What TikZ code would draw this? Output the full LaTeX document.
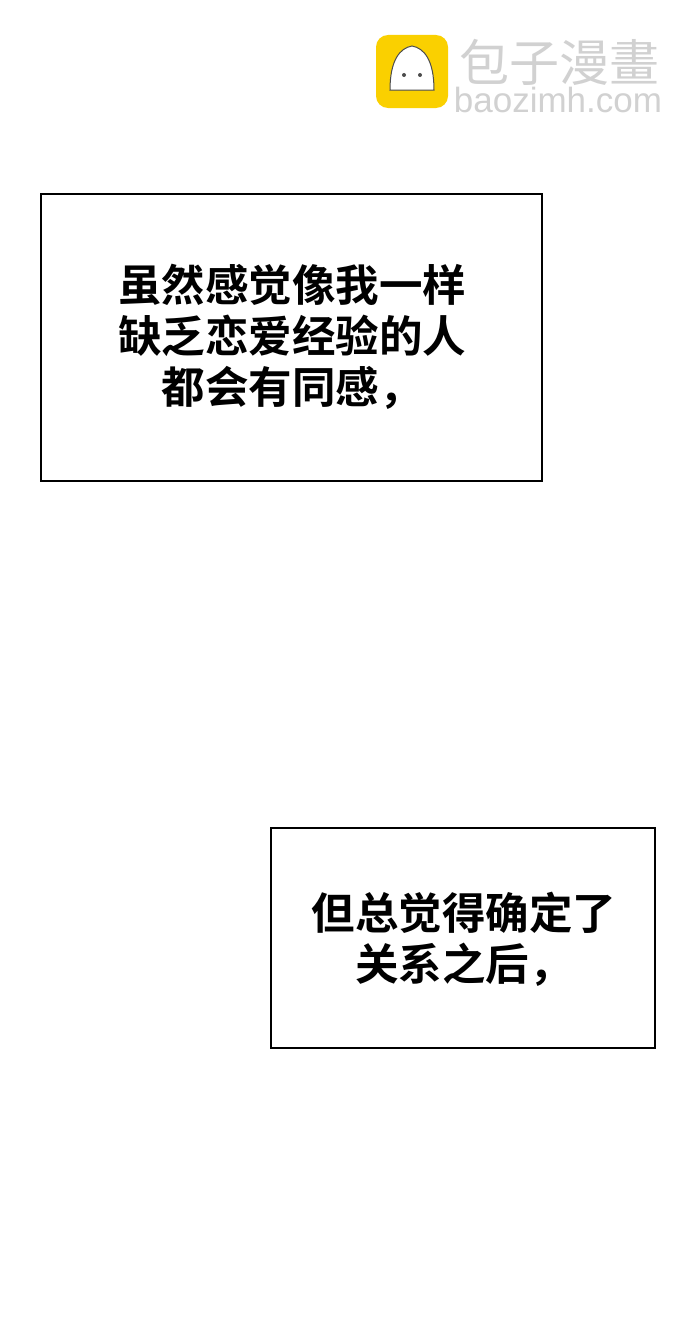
\documentclass[tikz,border=0pt]{standalone}
\usepackage{fontspec}
\newfontfamily\cjk{Noto Sans CJK SC Bold}
\newfontfamily\cjkm{Noto Sans CJK SC}
\setmainfont{Liberation Sans}
\begin{document}
\begin{tikzpicture}[x=1pt,y=-1pt,
  panel/.style={draw=black,line width=2.5pt},
  say/.style={font=\cjk\fontsize{43.5}{51}\selectfont,align=center,anchor=center}]
\useasboundingbox (0,0) rectangle (690,1322);
\fill[white] (0,0) rectangle (690,1322);
% logo
\node[fill={rgb,255:red,250;green,208;blue,0},rounded corners=12pt,minimum width=72pt,minimum height=73pt,inner sep=0pt] (logo) at (412,71.5) {};
\fill[white,draw=black!70,line width=1pt] (390,90) .. controls (390,60) and (400,48) .. (412,46) .. controls (424,48) and (434,60) .. (434,90) -- cycle;
\fill[black!70] (404,75) circle (2pt) (420,75) circle (2pt);
\node[font=\cjkm\fontsize{50}{50}\selectfont,text=black!18,anchor=center] (brand) at (559,62) {包子漫畫};
\node[font=\fontsize{35}{35}\selectfont,text=black!18,anchor=center] (url) at (558,100) {baozimh.com};
% panels
\draw[panel] (41,194) rectangle (542,481);
\node[say] (t1) at (292,337) {虽然感觉像我一样\\缺乏恋爱经验的人\\都会有同感，};
\draw[panel] (271,828) rectangle (655,1048);
\node[say] (t2) at (464,939) {但总觉得确定了\\关系之后，};
\end{tikzpicture}
\end{document}
